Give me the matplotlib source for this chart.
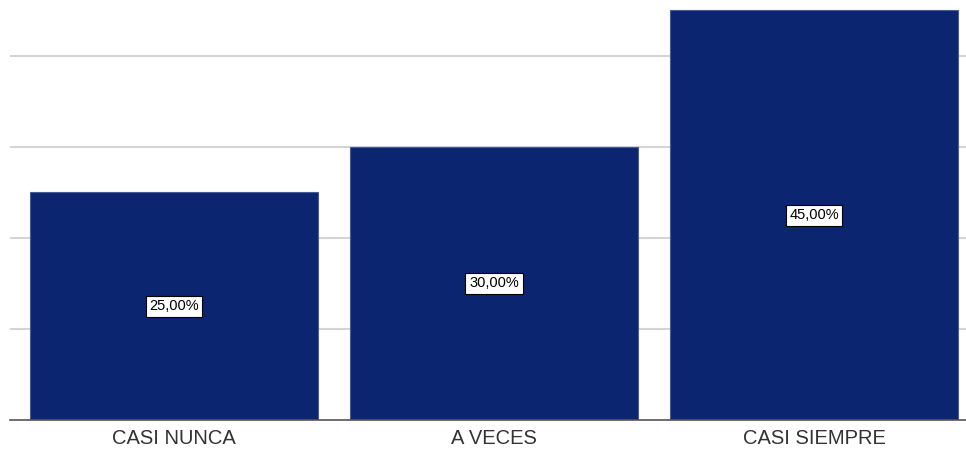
import matplotlib.pyplot as plt

categorias = ['CASI NUNCA', 'A VECES', 'CASI SIEMPRE']
porcentajes = [25.0, 30.0, 45.0]
etiquetas = ['25,00%', '30,00%', '45,00%']

plt.rcParams['font.family'] = ['Liberation Sans', 'DejaVu Sans']

fig = plt.figure(figsize=(9.66, 4.5), dpi=100)
ax = fig.add_axes([10 / 966, 30 / 450, 956 / 966, 420 / 450])

x = range(len(categorias))
barras = ax.bar(x, porcentajes, width=0.9, color='#0b2570',
                edgecolor='#4a5c98', linewidth=0.8, zorder=2)

# etiquetas de valor en el centro de cada barra
for b, txt in zip(barras, etiquetas):
    ax.text(b.get_x() + b.get_width() / 2, b.get_height() / 2, txt,
            ha='center', va='center', fontsize=10.5, color='black', zorder=3,
            bbox=dict(boxstyle='square,pad=0.25', fc='white', ec='black', lw=0.8))

ax.set_xlim(-0.5125, 2.475)
ax.set_ylim(0, 46.15)
ax.set_yticks([10, 20, 30, 40])
ax.yaxis.grid(True, color='#d4d4d4', linewidth=1.5, zorder=0)
ax.tick_params(axis='y', left=False, labelleft=False)
ax.tick_params(axis='x', bottom=False, labelsize=14.5, labelcolor='#333333', pad=3)
ax.set_xticks(list(x))
ax.set_xticklabels(categorias)

for lado in ['top', 'right', 'left']:
    ax.spines[lado].set_visible(False)
ax.spines['bottom'].set_color('#555555')
ax.spines['bottom'].set_linewidth(1.2)
ax.spines['bottom'].set_zorder(4)

fig.savefig('out.png', dpi=100)
